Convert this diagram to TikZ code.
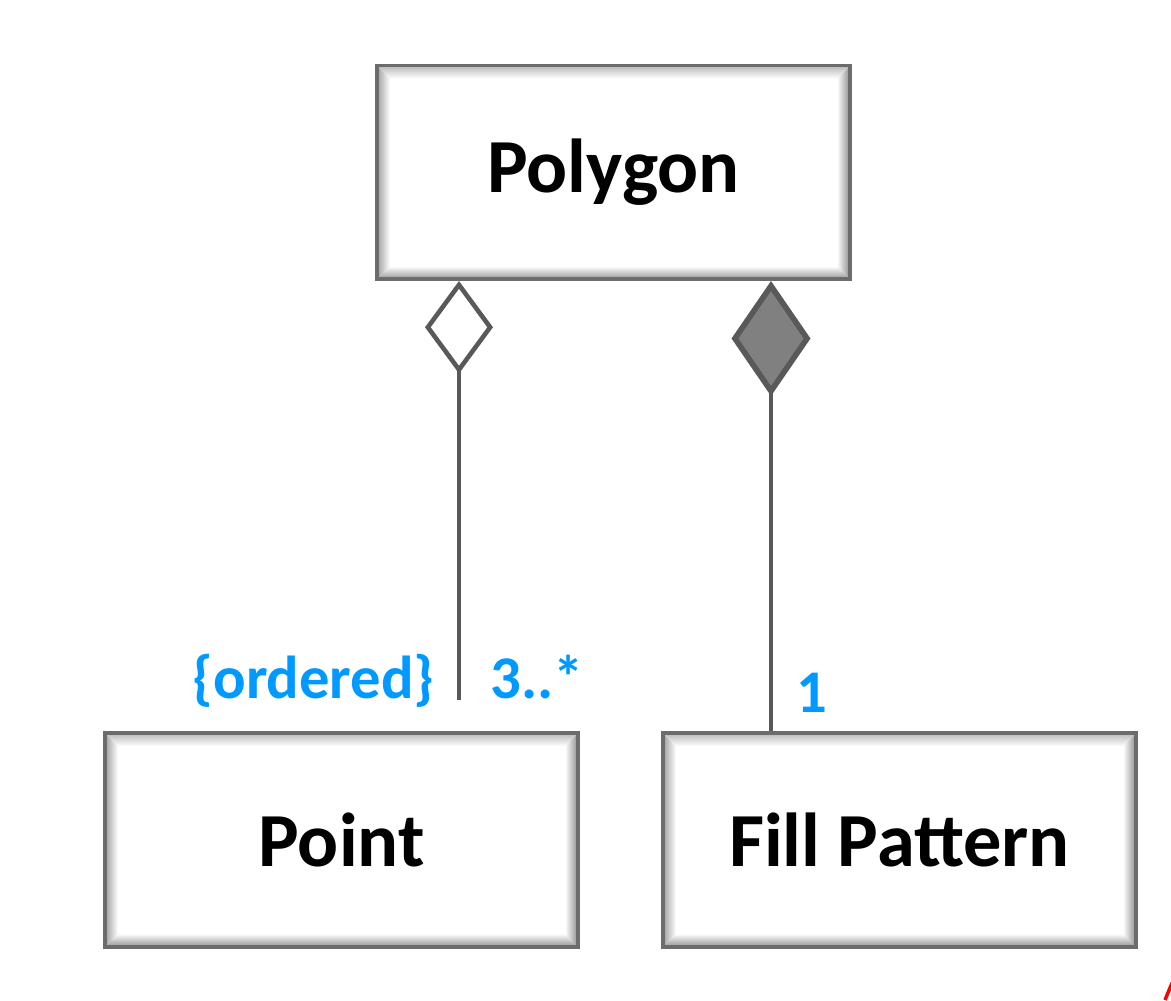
\documentclass[tikz,border=0pt]{standalone}
\usepackage{fontspec}
\setmainfont{Carlito}
\usetikzlibrary{arrows.meta, calc, positioning}

\definecolor{linegray}{HTML}{595959}
\definecolor{multblue}{HTML}{0099FF}
\newcommand{\bw}{0.26cm}

\tikzset{
  classbox/.style={draw=gray!85!black, line width=2pt, fill=white,
    minimum width=9.46cm, minimum height=4.27cm, inner sep=0pt,
    font=\fontsize{43.5}{50}\selectfont\bfseries,
    path picture={
      \coordinate (bsw) at (path picture bounding box.south west);
      \coordinate (bse) at (path picture bounding box.south east);
      \coordinate (bnw) at (path picture bounding box.north west);
      \coordinate (bne) at (path picture bounding box.north east);
      \shade[left color=gray!75, right color=white] (bsw) -- (bnw) -- ($(bnw)+(\bw,-\bw)$) -- ($(bsw)+(\bw,\bw)$) -- cycle;
      \shade[left color=white, right color=gray!90] (bse) -- (bne) -- ($(bne)+(-\bw,-\bw)$) -- ($(bse)+(-\bw,\bw)$) -- cycle;
      \shade[top color=gray!55, bottom color=white] (bnw) -- (bne) -- ($(bne)+(-\bw,-\bw)$) -- ($(bnw)+(\bw,-\bw)$) -- cycle;
      \shade[top color=white, bottom color=gray!85] (bsw) -- (bse) -- ($(bse)+(-\bw,\bw)$) -- ($(bsw)+(\bw,\bw)$) -- cycle;
    }},
  mult/.style={text=multblue, font=\fontsize{34.5}{40}\selectfont\bfseries, inner sep=0pt},
  assocline/.style={draw=linegray, line width=2.3pt}
}

\begin{document}
\begin{tikzpicture}
  \useasboundingbox (0,0) rectangle (23.42,20);

  \node[classbox] (poly) at (12.27,16.55) {Polygon};
  \node[classbox] (point) at (6.83,3.2) {Point};
  \node[classbox] (fillpat) at (17.99,3.2) {Fill Pattern};

  % aggregation and composition ends
  \coordinate (ordend) at (9.18,6.0);
  \coordinate (compx) at (15.42,0);
  \draw[assocline, {Diamond[open, length=1.85cm, width=1.36cm, line width=2.6pt]}-] (poly.south -| ordend) -- (ordend);
  \draw[assocline, {Diamond[fill=gray!100!white, length=2.3cm, width=1.58cm, line width=3.2pt]}-] (poly.south -| compx) -- (fillpat.north -| compx);

  \node[mult, anchor=base east] (ord) at (8.70,6.04) {\{ordered\}};
  \node[mult, anchor=base west] (many) at (9.80,6.04) {3..*};
  \node[mult, anchor=base] (one) at (16.24,5.76) {1};

  \draw[red, line width=2pt] (23.30,0) -- (23.44,0.34);
\end{tikzpicture}
\end{document}
